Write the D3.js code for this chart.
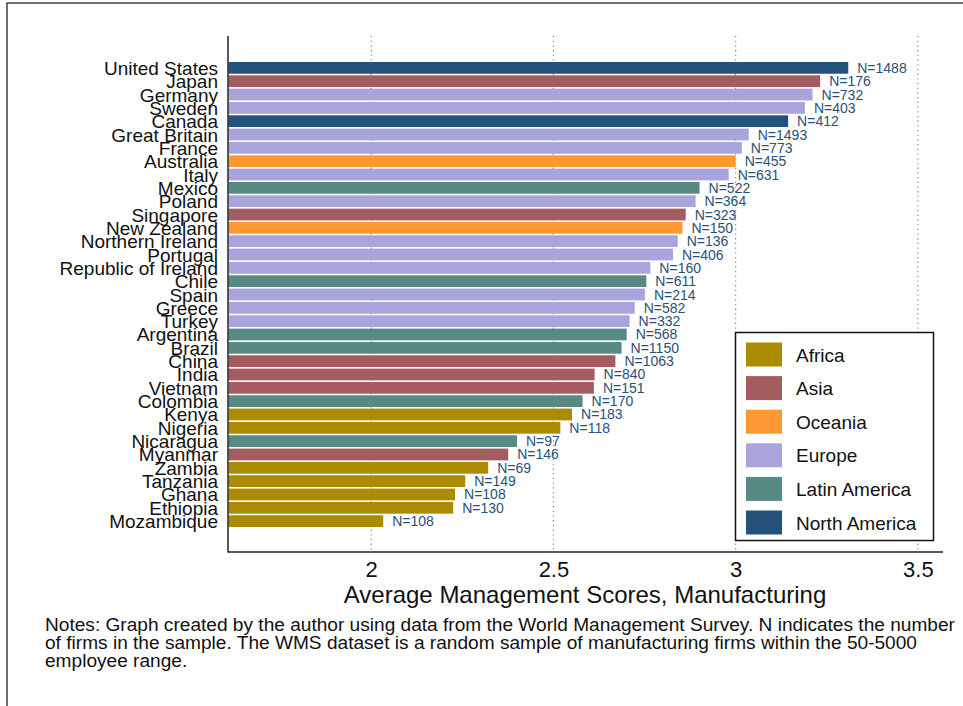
<!DOCTYPE html>
<html>
<head>
<meta charset="utf-8">
<script src="https://cdn.jsdelivr.net/npm/d3@7"></script>
<style>
  html, body { margin: 0; padding: 0; background: #fff; }
  svg { display: block; font-family: "Liberation Sans", Arial, Helvetica, sans-serif; }
</style>
</head>
<body>
<svg id="chart" width="963" height="706"></svg>
<script>
// ---- data ----
const countries = ["United States","Japan","Germany","Sweden","Canada","Great Britain","France","Australia","Italy","Mexico","Poland","Singapore","New Zealand","Northern Ireland","Portugal","Republic of Ireland","Chile","Spain","Greece","Turkey","Argentina","Brazil","China","India","Vietnam","Colombia","Kenya","Nigeria","Nicaragua","Myanmar","Zambia","Tanzania","Ghana","Ethiopia","Mozambique"];
const scores = [3.309,3.232,3.211,3.190,3.144,3.036,3.017,3.000,2.981,2.901,2.890,2.863,2.854,2.841,2.828,2.766,2.755,2.751,2.723,2.709,2.701,2.687,2.670,2.613,2.611,2.580,2.551,2.519,2.400,2.376,2.321,2.258,2.230,2.225,2.033];
const regions = ["North America","Asia","Europe","Europe","North America","Europe","Europe","Oceania","Europe","Latin America","Europe","Asia","Oceania","Europe","Europe","Europe","Latin America","Europe","Europe","Europe","Latin America","Latin America","Asia","Asia","Asia","Latin America","Africa","Africa","Latin America","Asia","Africa","Africa","Africa","Africa","Africa"];
const firmCounts = [1488,176,732,403,412,1493,773,455,631,522,364,323,150,136,406,160,611,214,582,332,568,1150,1063,840,151,170,183,118,97,146,69,149,108,130,108];
const legendRegions = ["Africa","Asia","Oceania","Europe","Latin America","North America"];
const regionColors = ["#ab8b00","#a55c61","#fd9833","#a9a4dc","#588a83","#24527a"];
const xTicks = [2, 2.5, 3, 3.5];
const xTitle = "Average Management Scores, Manufacturing";
const notes = [
  "Notes: Graph created by the author using data from the World Management Survey. N indicates the number",
  "of firms in the sample. The WMS dataset is a random sample of manufacturing firms within the 50-5000",
  "employee range."
];

// ---- layout ----
const svg = d3.select("#chart");
const plotLeft = 228, plotRight = 943, plotTop = 36, plotBottom = 552;

const x = d3.scaleLinear().domain([1.607, 3.569]).range([plotLeft, plotRight]);
const y = d3.scaleBand().domain(countries).range([62, 527]).paddingInner(0.12).paddingOuter(0);
const color = d3.scaleOrdinal().domain(legendRegions).range(regionColors);

const rows = countries.map((c, i) => ({ c, v: scores[i], r: regions[i], n: firmCounts[i] }));

// outer frame
svg.append("rect").attr("x", 7).attr("y", 3).attr("width", 1000).attr("height", 1000)
  .attr("fill", "none").attr("stroke", "#111").attr("stroke-width", 1.2);

// gridlines
svg.append("g").selectAll("line").data(xTicks).join("line")
  .attr("x1", d => x(d)).attr("x2", d => x(d))
  .attr("y1", plotTop).attr("y2", plotBottom)
  .attr("stroke", "#8a8a8a").attr("stroke-width", 1.2).attr("stroke-dasharray", "1.3,3.4");

// bars
svg.append("g").selectAll("rect").data(rows).join("rect")
  .attr("x", plotLeft + 0.5)
  .attr("y", d => y(d.c))
  .attr("width", d => x(d.v) - plotLeft - 0.5)
  .attr("height", y.bandwidth())
  .attr("fill", d => color(d.r));

// N labels
svg.append("g").selectAll("text").data(rows).join("text")
  .attr("x", d => x(d.v) + 9)
  .attr("y", d => y(d.c) + y.bandwidth() / 2 + 5)
  .attr("font-size", 14).attr("fill", "#2a4f78")
  .text(d => "N=" + d.n);

// country labels
svg.append("g").selectAll("text").data(rows).join("text")
  .attr("x", 218)
  .attr("y", d => y(d.c) + y.bandwidth() / 2 + 7)
  .attr("text-anchor", "end").attr("font-size", 19).attr("fill", "#111")
  .text(d => d.c);

// axes lines
svg.append("line").attr("x1", plotLeft).attr("x2", plotLeft).attr("y1", plotTop).attr("y2", plotBottom + 0.5)
  .attr("stroke", "#222").attr("stroke-width", 1.5);
svg.append("line").attr("x1", plotLeft).attr("x2", plotRight).attr("y1", plotBottom).attr("y2", plotBottom)
  .attr("stroke", "#222").attr("stroke-width", 1.5);

// x axis tick labels via d3 axis
const xAxis = d3.axisBottom(x).tickValues(xTicks).tickSize(0).tickPadding(10).tickFormat(d3.format("~g"));
const gx = svg.append("g").attr("transform", `translate(0,${plotBottom})`).call(xAxis);
gx.select(".domain").remove();
gx.selectAll("text").attr("font-size", 22).attr("fill", "#111")
  .attr("font-family", '"Liberation Sans", Arial, sans-serif').attr("dy", 0).attr("y", 25);

// x title
svg.append("text").attr("x", (plotLeft + plotRight) / 2 - 0.5).attr("y", 603)
  .attr("text-anchor", "middle").attr("font-size", 24).attr("fill", "#111").text(xTitle);

// notes
svg.append("g").selectAll("text").data(notes).join("text")
  .attr("x", 45).attr("y", (d, i) => 631 + i * 18)
  .attr("font-size", 19.1).attr("fill", "#111").text(d => d);

// legend
const lg = svg.append("g");
lg.append("rect").attr("x", 735.5).attr("y", 332.5).attr("width", 198).attr("height", 208)
  .attr("fill", "#fff").attr("stroke", "#111").attr("stroke-width", 1.5);
const ly = d3.scalePoint().domain(legendRegions).range([354.5, 522.5]);
lg.selectAll("rect.sw").data(legendRegions).join("rect").attr("class", "sw")
  .attr("x", 746).attr("y", d => ly(d) - 12).attr("width", 36).attr("height", 24)
  .attr("fill", d => color(d));
lg.selectAll("text").data(legendRegions).join("text")
  .attr("x", 796).attr("y", d => ly(d) + 7)
  .attr("font-size", 19).attr("fill", "#111").text(d => d);
</script>
</body>
</html>
